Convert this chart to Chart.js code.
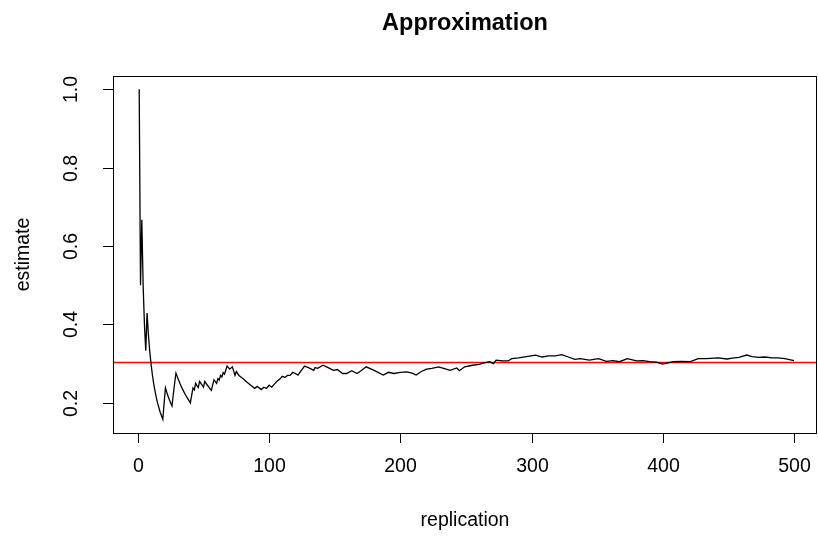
<!DOCTYPE html>
<html>
<head>
<meta charset="utf-8">
<script src="https://cdn.jsdelivr.net/npm/chart.js@4"></script>
<style>
	html, body { margin: 0; padding: 0; background: #fff; }
	canvas { display: block; }
</style>
</head>
<body>
<canvas id="chart-approximation" width="818" height="541"></canvas>
<script>
// Chart data
const REPLICATION = [
	1, 2, 3, 4, 5, 6, 7, 8, 9, 10, 11, 12, 13, 14, 15, 16, 17, 18, 19, 20,
	21, 22, 23, 24, 25, 26, 27, 28, 29, 30, 32, 34, 36, 38, 40, 41, 42, 43, 44, 45,
	46, 47, 48, 49, 50, 51, 52, 53, 54, 55, 56, 57, 58, 59, 60, 61, 62, 63, 64, 65,
	66, 67, 68, 69, 70, 72, 74, 75, 77, 80, 83, 86, 89, 91, 94, 96, 98, 100, 102, 104,
	106, 108, 110, 112, 114, 116, 118, 120, 122, 125, 127, 130, 134, 135, 137, 141, 145, 149, 152, 156,
	159, 163, 167, 170, 174, 180, 187, 191, 195, 200, 205, 209, 212, 216, 220, 224, 229, 233, 238, 243,
	245, 249, 255, 260, 264, 268, 271, 273, 278, 282, 285, 290, 296, 303, 308, 313, 318, 323, 328, 333,
	337, 344, 351, 357, 362, 367, 373, 380, 385, 390, 395, 400, 404, 408, 414, 421, 427, 433, 442, 449,
	453, 458, 464, 468, 473, 478, 483, 488, 493, 500,
];
const ESTIMATE = [
	1.0, 0.5, 0.667, 0.5, 0.4, 0.333, 0.429, 0.375, 0.333, 0.3, 0.273, 0.25, 0.231, 0.214, 0.2, 0.188, 0.176, 0.167, 0.158, 0.2,
	0.238, 0.227, 0.217, 0.208, 0.2, 0.192, 0.222, 0.25, 0.276, 0.267, 0.25, 0.235, 0.222, 0.211, 0.2, 0.22, 0.238, 0.233, 0.25, 0.244,
	0.239, 0.255, 0.25, 0.245, 0.24, 0.255, 0.25, 0.245, 0.241, 0.236, 0.232, 0.246, 0.259, 0.254, 0.25, 0.262, 0.258, 0.27, 0.266, 0.277,
	0.273, 0.284, 0.294, 0.29, 0.286, 0.292, 0.27, 0.28, 0.27, 0.262, 0.253, 0.245, 0.237, 0.242, 0.234, 0.24, 0.237, 0.245, 0.24, 0.248,
	0.255, 0.26, 0.268, 0.265, 0.27, 0.27, 0.278, 0.275, 0.271, 0.285, 0.294, 0.29, 0.283, 0.29, 0.288, 0.296, 0.29, 0.283, 0.285, 0.275,
	0.275, 0.282, 0.275, 0.282, 0.292, 0.283, 0.271, 0.278, 0.275, 0.278, 0.279, 0.276, 0.271, 0.28, 0.286, 0.288, 0.292, 0.288, 0.283, 0.289,
	0.282, 0.292, 0.296, 0.298, 0.302, 0.305, 0.3, 0.309, 0.307, 0.307, 0.313, 0.315, 0.318, 0.322, 0.317, 0.32, 0.32, 0.323, 0.317, 0.311,
	0.313, 0.309, 0.313, 0.306, 0.308, 0.305, 0.313, 0.307, 0.308, 0.305, 0.304, 0.299, 0.302, 0.305, 0.306, 0.305, 0.313, 0.313, 0.315, 0.312,
	0.314, 0.316, 0.322, 0.318, 0.316, 0.317, 0.315, 0.315, 0.313, 0.308,
];
const TRUE_VALUE = 0.303;
const X_TICKS = [0, 100, 200, 300, 400, 500];
const Y_TICKS = [0.2, 0.4, 0.6, 0.8, 1.0];

const FONT = '"Liberation Sans", Arial, Helvetica, sans-serif';

// R-style frame, ticks and titles drawn on top of the library scales
const baseGraphics = {
	id: "baseGraphics",
	afterDraw(chart) {
		const { ctx, chartArea, scales } = chart;
		const { left, top, right, bottom } = chartArea;
		ctx.save();
		ctx.strokeStyle = "#000";
		ctx.fillStyle = "#000";
		ctx.lineWidth = 1;

		// box
		ctx.strokeRect(left + 0.5, top + 0.5, right - left - 1, bottom - top);

		// x axis
		ctx.font = "19.5px " + FONT;
		ctx.textAlign = "center";
		ctx.textBaseline = "middle";
		X_TICKS.forEach((t) => {
			const x = Math.round(scales.x.getPixelForValue(t)) + 0.5;
			ctx.beginPath();
			ctx.moveTo(x, bottom);
			ctx.lineTo(x, bottom + 10);
			ctx.stroke();
			ctx.fillText(String(t), x, 467);
		});

		// y axis
		Y_TICKS.forEach((t) => {
			const y = Math.round(scales.y.getPixelForValue(t)) + 0.5;
			ctx.beginPath();
			ctx.moveTo(left, y);
			ctx.lineTo(left - 10, y);
			ctx.stroke();
			ctx.save();
			ctx.translate(72, y);
			ctx.rotate(-Math.PI / 2);
			ctx.fillText(t.toFixed(1), 0, 0);
			ctx.restore();
		});

		// axis titles
		ctx.fillText("replication", (left + right) / 2, 521);
		ctx.save();
		ctx.translate(24, (top + bottom) / 2);
		ctx.rotate(-Math.PI / 2);
		ctx.fillText("estimate", 0, 0);
		ctx.restore();

		// main title
		ctx.font = "bold 23.5px " + FONT;
		ctx.fillText("Approximation", (left + right) / 2, 24);
		ctx.restore();
	},
};

const X_MIN = -18.96;
const X_MAX = 517.5;

const CHART_DATA = {
	datasets: [
		{
			label: "estimate",
			data: REPLICATION.map((r, i) => ({ x: r, y: ESTIMATE[i] })),
			borderColor: "#000",
			borderWidth: 1.3,
			pointRadius: 0,
			tension: 0,
		},
		{
			label: "true value",
			data: [
				{ x: X_MIN, y: TRUE_VALUE },
				{ x: X_MAX, y: TRUE_VALUE },
			],
			borderColor: "#ff0000",
			borderWidth: 1.3,
			pointRadius: 0,
		},
	],
};

const CHART_CONFIG = {
	type: "line",
	data: CHART_DATA,
	options: {
		responsive: false,
		animation: false,
		layout: {
			padding: { left: 113, top: 76, right: 1, bottom: 108 },
		},
		scales: {
			x: { type: "linear", min: X_MIN, max: X_MAX, display: false },
			y: { type: "linear", min: 0.1232, max: 1.0337, display: false },
		},
		plugins: {
			legend: { display: false },
			tooltip: { enabled: false },
		},
	},
	plugins: [baseGraphics],
};

new Chart(document.getElementById("chart-approximation"), CHART_CONFIG);
</script>
</body>
</html>
